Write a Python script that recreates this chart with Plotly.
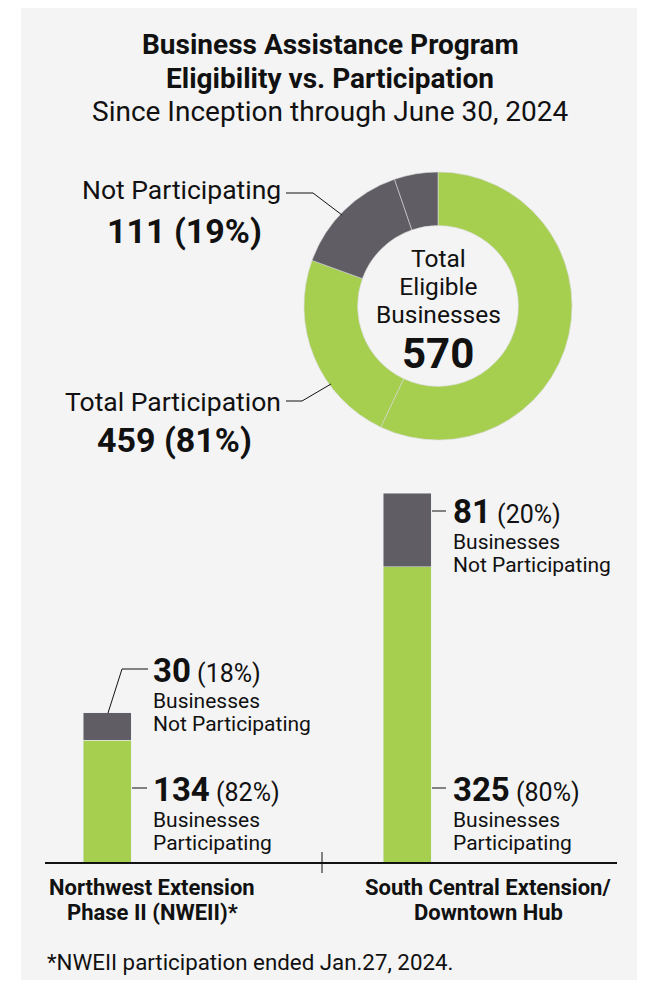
import plotly.graph_objects as go

# ---------------- data ----------------
regions = ["Northwest Extension<br>Phase II (NWEII)*", "South Central Extension/<br>Downtown Hub"]
participating = [134, 325]
not_participating = [30, 81]
title_lines = ["Business Assistance Program", "Eligibility vs. Participation"]
subtitle = "Since Inception through June 30, 2024"
footnote = "*NWEII participation ended Jan.27, 2024."
center_lines = ["Total", "Eligible", "Businesses"]

GREEN = "#a6cf50"
GRAY = "#605e64"
BG = "#f4f4f4"
OFF = 8  # page body margin
W, H = 645 - OFF, 982 - OFF
FONT = "Roboto, 'Open Sans', sans-serif"


def px(x):
    return (x - OFF) / W


def py(y):
    return 1 - (y - OFF) / H


total_part = sum(participating)
total_not = sum(not_participating)
total = total_part + total_not

fig = go.Figure()

# stacked bars
fig.add_trace(go.Bar(x=regions, y=participating, marker_color=GREEN, width=0.16,
                     name="Participating", hoverinfo="skip"))
fig.add_trace(go.Bar(x=regions, y=not_participating, marker_color=GRAY, width=0.16,
                     name="Not Participating", hoverinfo="skip"))

# donut (clockwise from 12 o'clock: SCE part., NWEII part., SCE not, NWEII not)
pie_vals = [participating[1], participating[0], not_participating[1], not_participating[0]]
pie_cols = [GREEN, GREEN, GRAY, GRAY]
cx, cy, r = 438, 306, 134
fig.add_trace(go.Pie(values=pie_vals, marker=dict(colors=pie_cols, line=dict(color="#d8d8d8", width=0.6)),
                     hole=0.6, sort=False, direction="clockwise", rotation=0,
                     textinfo="none", hoverinfo="skip", showlegend=False,
                     domain=dict(x=[px(cx - r), px(cx + r)], y=[py(cy + r), py(cy - r)])))

x_range = [-0.2067, 1.7]
y_top = (862 - 480) / (369 / 406)

fig.update_layout(
    width=W, height=H, margin=dict(l=0, r=0, t=0, b=0),
    paper_bgcolor="white", plot_bgcolor="rgba(0,0,0,0)",
    barmode="stack", showlegend=False,
    font=dict(family=FONT, color="#111111"),
    xaxis=dict(domain=[px(45), px(617)], range=x_range, type="category",
               showticklabels=False, showgrid=False, zeroline=False,
               showline=True, linecolor="#111111", linewidth=2, ticks=""),
    yaxis=dict(domain=[py(862), py(480)], range=[0, y_top], showticklabels=False,
               showgrid=False, zeroline=False, showline=False),
)

shapes = [
    dict(type="rect", xref="paper", yref="paper", x0=px(21), x1=px(640), y0=py(980), y1=1,
         fillcolor=BG, line=dict(width=0), layer="below"),
    # separator tick on axis
    dict(type="line", xref="paper", yref="paper", x0=px(322), x1=px(322), y0=py(852), y1=py(873),
         line=dict(color="#111111", width=1)),
    # donut callouts
    dict(type="path", xref="paper", yref="paper",
         path=f"M {px(286)} {py(193)} L {px(313)} {py(193)} L {px(342)} {py(215)}",
         line=dict(color="#111111", width=1)),
    dict(type="path", xref="paper", yref="paper",
         path=f"M {px(286)} {py(401)} L {px(302)} {py(401)} L {px(331)} {py(384)}",
         line=dict(color="#111111", width=1)),
    # bar callouts
    dict(type="path", xref="paper", yref="paper",
         path=f"M {px(108)} {py(713)} L {px(122)} {py(669)} L {px(148)} {py(669)}",
         line=dict(color="#111111", width=1)),
    dict(type="line", xref="paper", yref="paper", x0=px(132), x1=px(147), y0=py(788), y1=py(788),
         line=dict(color="#111111", width=1)),
    dict(type="line", xref="paper", yref="paper", x0=px(432), x1=px(446), y0=py(511), y1=py(511),
         line=dict(color="#111111", width=1)),
    dict(type="line", xref="paper", yref="paper", x0=px(432), x1=px(446), y0=py(788), y1=py(788),
         line=dict(color="#111111", width=1)),
]
fig.update_layout(shapes=shapes)


def ann(text, x, y, size, xanchor="center", bold=False):
    if bold:
        text = f"<b>{text}</b>"
    fig.add_annotation(text=text, x=px(x), y=py(y), xref="paper", yref="paper",
                       xanchor=xanchor, yanchor="middle", showarrow=False,
                       font=dict(size=size, family=FONT, color="#111111"))


def pct(a, b):
    return f"{round(100 * a / b)}%"


# title
ann(title_lines[0], 330, 45, 28, bold=True)
ann(title_lines[1], 330, 78, 28, bold=True)
ann(subtitle, 330, 111, 28)

# donut labels
ann("Not Participating", 283, 190, 26.5, xanchor="right")
ann(f"{total_not} ({pct(total_not, total)})", 184, 231, 34, bold=True)
ann("Total Participation", 283, 401, 26.5, xanchor="right")
ann(f"{total_part} ({pct(total_part, total)})", 174, 440, 34, bold=True)
# centre text: one annotation, tight line spacing
ann("<br>".join(f"<span style='font-size:24.5px'>{t}</span>" for t in center_lines), 438, 286, 21.5)
ann(f"{total}", 438, 353, 42, bold=True)

# bar labels
bar_text_x = [151, 451]
not_y = [670, 511]
part_y = [789, 789]
for i in range(2):
    tot = participating[i] + not_participating[i]
    n, p = not_participating[i], participating[i]
    ann(f"<b><span style='font-size:33px'>{n}</span></b> ({pct(n, tot)})", bar_text_x[i], not_y[i], 25, xanchor="left")
    ann("Businesses", bar_text_x[i], not_y[i] + 31, 21, xanchor="left")
    ann("Not Participating", bar_text_x[i], not_y[i] + 54, 21, xanchor="left")
    ann(f"<b><span style='font-size:33px'>{p}</span></b> ({pct(p, tot)})", bar_text_x[i], part_y[i], 25, xanchor="left")
    ann("Businesses", bar_text_x[i], part_y[i] + 31, 21, xanchor="left")
    ann("Participating", bar_text_x[i], part_y[i] + 54, 21, xanchor="left")

# category labels
label_x = [152, 488]
for i, lab in enumerate(regions):
    l1, l2 = lab.split("<br>")
    ann(l1, label_x[i], 887, 22, bold=True)
    ann(l2, label_x[i], 912, 22, bold=True)

ann(footnote, 45, 962, 22.3, xanchor="left")

fig.write_html("out.html")
